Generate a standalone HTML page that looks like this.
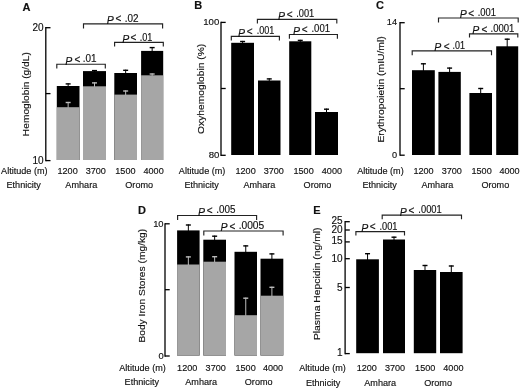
<!DOCTYPE html>
<html><head><meta charset="utf-8"><style>
html,body{margin:0;padding:0;background:#fff;}
body{width:520px;height:388px;overflow:hidden;}
svg{display:block;filter:grayscale(1);}
text{font-family:"Liberation Sans", sans-serif;fill:#111;stroke:#111;stroke-width:0.15px;}
</style></head><body>
<svg width="520" height="388" viewBox="0 0 520 388">
<rect width="520" height="388" fill="#fff"/>
<text x="22.60" y="11.30" font-size="11.0" text-anchor="start" font-weight="bold"  stroke="#000" stroke-width="0.55">A</text>
<line x1="68.15" y1="83.30" x2="68.15" y2="88.00" stroke="#000" stroke-width="1.0"/>
<line x1="65.65" y1="83.90" x2="70.65" y2="83.90" stroke="#000" stroke-width="1.4"/>
<rect x="56.80" y="86.00" width="22.70" height="74.00" fill="#000"/>
<rect x="56.80" y="107.20" width="22.70" height="52.80" fill="#a6a6a6"/>
<line x1="68.15" y1="101.90" x2="68.15" y2="107.70" stroke="#bbbbbb" stroke-width="1.0"/>
<line x1="65.65" y1="102.50" x2="70.65" y2="102.50" stroke="#bbbbbb" stroke-width="1.4"/>
<line x1="94.50" y1="70.00" x2="94.50" y2="73.10" stroke="#000" stroke-width="1.0"/>
<line x1="92.00" y1="70.60" x2="97.00" y2="70.60" stroke="#000" stroke-width="1.4"/>
<rect x="83.00" y="71.10" width="23.00" height="88.90" fill="#000"/>
<rect x="83.00" y="86.30" width="23.00" height="73.70" fill="#a6a6a6"/>
<line x1="94.50" y1="82.30" x2="94.50" y2="86.80" stroke="#bbbbbb" stroke-width="1.0"/>
<line x1="92.00" y1="82.90" x2="97.00" y2="82.90" stroke="#bbbbbb" stroke-width="1.4"/>
<line x1="125.65" y1="69.70" x2="125.65" y2="75.00" stroke="#000" stroke-width="1.0"/>
<line x1="123.15" y1="70.30" x2="128.15" y2="70.30" stroke="#000" stroke-width="1.4"/>
<rect x="114.30" y="73.00" width="22.70" height="87.00" fill="#000"/>
<rect x="114.30" y="94.60" width="22.70" height="65.40" fill="#a6a6a6"/>
<line x1="125.65" y1="90.40" x2="125.65" y2="95.10" stroke="#bbbbbb" stroke-width="1.0"/>
<line x1="123.15" y1="91.00" x2="128.15" y2="91.00" stroke="#bbbbbb" stroke-width="1.4"/>
<line x1="152.15" y1="47.00" x2="152.15" y2="52.90" stroke="#000" stroke-width="1.0"/>
<line x1="149.65" y1="47.60" x2="154.65" y2="47.60" stroke="#000" stroke-width="1.4"/>
<rect x="141.10" y="50.90" width="22.10" height="109.10" fill="#000"/>
<rect x="141.10" y="75.30" width="22.10" height="84.70" fill="#a6a6a6"/>
<line x1="152.15" y1="73.40" x2="152.15" y2="75.80" stroke="#bbbbbb" stroke-width="1.0"/>
<line x1="149.65" y1="74.00" x2="154.65" y2="74.00" stroke="#bbbbbb" stroke-width="1.4"/>
<line x1="45.80" y1="27.05" x2="45.80" y2="161.25" stroke="#000" stroke-width="1.3"/>
<line x1="45.80" y1="27.70" x2="50.50" y2="27.70" stroke="#000" stroke-width="1.3"/>
<line x1="45.80" y1="93.60" x2="50.50" y2="93.60" stroke="#000" stroke-width="1.3"/>
<line x1="45.80" y1="160.60" x2="50.50" y2="160.60" stroke="#000" stroke-width="1.3"/>
<text x="43.60" y="30.78" font-size="10.0" text-anchor="end" font-weight="normal" >20</text>
<text x="43.60" y="163.68" font-size="10.0" text-anchor="end" font-weight="normal" >10</text>
<text transform="translate(29.20,94.15) rotate(-90) scale(1,0.93)" font-size="10.3" text-anchor="middle" textLength="84.10" lengthAdjust="spacingAndGlyphs" stroke-width="0.3">Hemoglobin (g/dL)</text>
<path d="M56.80,68.60 V64.20 H105.30 V68.60" fill="none" stroke="#222" stroke-width="1.15"/>
<text x="65.25" y="64.60" font-size="10.5" font-style="italic" stroke-width="0">P</text>
<text x="74.50" y="62.65" font-size="10">&lt;</text>
<text x="82.65" y="61.95" font-size="10.0" textLength="13.80" lengthAdjust="spacingAndGlyphs">.01</text>
<path d="M114.60,46.60 V42.30 H163.30 V46.60" fill="none" stroke="#222" stroke-width="1.15"/>
<text x="122.25" y="42.70" font-size="10.5" font-style="italic" stroke-width="0">P</text>
<text x="130.40" y="41.25" font-size="10">&lt;</text>
<text x="139.65" y="40.55" font-size="10.0" textLength="12.70" lengthAdjust="spacingAndGlyphs">.01</text>
<path d="M83.50,28.60 V23.80 H162.60 V28.60" fill="none" stroke="#222" stroke-width="1.15"/>
<text x="106.85" y="24.20" font-size="10.5" font-style="italic" stroke-width="0">P</text>
<text x="115.40" y="22.25" font-size="10">&lt;</text>
<text x="124.65" y="21.55" font-size="10.0" textLength="13.80" lengthAdjust="spacingAndGlyphs">.02</text>
<text transform="translate(47.60,173.70) scale(1,1.08)" font-size="9.1" text-anchor="end" font-weight="normal" >Altitude (m)</text>
<text transform="translate(40.90,187.70) scale(1,1.08)" font-size="9.1" text-anchor="end" font-weight="normal" >Ethnicity</text>
<text transform="translate(67.60,173.70) scale(1,1.08)" font-size="9.1" text-anchor="middle" font-weight="normal" >1200</text>
<text transform="translate(95.80,173.70) scale(1,1.08)" font-size="9.1" text-anchor="middle" font-weight="normal" >3700</text>
<text transform="translate(125.40,173.70) scale(1,1.08)" font-size="9.1" text-anchor="middle" font-weight="normal" >1500</text>
<text transform="translate(153.60,173.70) scale(1,1.08)" font-size="9.1" text-anchor="middle" font-weight="normal" >4000</text>
<text transform="translate(81.30,187.70) scale(1,1.08)" font-size="9.1" text-anchor="middle" font-weight="normal" >Amhara</text>
<text transform="translate(139.20,187.70) scale(1,1.08)" font-size="9.1" text-anchor="middle" font-weight="normal" >Oromo</text>
<text x="194.30" y="9.20" font-size="11.0" text-anchor="start" font-weight="bold"  stroke="#000" stroke-width="0.55">B</text>
<line x1="242.60" y1="40.90" x2="242.60" y2="44.80" stroke="#000" stroke-width="1.0"/>
<line x1="240.10" y1="41.50" x2="245.10" y2="41.50" stroke="#000" stroke-width="1.4"/>
<rect x="231.20" y="42.80" width="22.80" height="112.20" fill="#000"/>
<line x1="269.25" y1="78.30" x2="269.25" y2="82.50" stroke="#000" stroke-width="1.0"/>
<line x1="266.75" y1="78.90" x2="271.75" y2="78.90" stroke="#000" stroke-width="1.4"/>
<rect x="258.00" y="80.50" width="22.50" height="74.50" fill="#000"/>
<line x1="300.25" y1="39.80" x2="300.25" y2="43.30" stroke="#000" stroke-width="1.0"/>
<line x1="297.75" y1="40.40" x2="302.75" y2="40.40" stroke="#000" stroke-width="1.4"/>
<rect x="289.20" y="41.30" width="22.10" height="113.70" fill="#000"/>
<line x1="326.50" y1="108.60" x2="326.50" y2="114.00" stroke="#000" stroke-width="1.0"/>
<line x1="324.00" y1="109.20" x2="329.00" y2="109.20" stroke="#000" stroke-width="1.4"/>
<rect x="315.00" y="112.00" width="23.00" height="43.00" fill="#000"/>
<line x1="221.00" y1="21.75" x2="221.00" y2="155.95" stroke="#000" stroke-width="1.3"/>
<line x1="221.00" y1="22.40" x2="225.70" y2="22.40" stroke="#000" stroke-width="1.3"/>
<line x1="221.00" y1="88.50" x2="225.70" y2="88.50" stroke="#000" stroke-width="1.3"/>
<line x1="221.00" y1="155.30" x2="225.70" y2="155.30" stroke="#000" stroke-width="1.3"/>
<text x="219.30" y="25.34" font-size="9.6" text-anchor="end" font-weight="normal" >100</text>
<text x="219.30" y="158.24" font-size="9.6" text-anchor="end" font-weight="normal" >80</text>
<text transform="translate(204.40,88.90) rotate(-90) scale(1,0.93)" font-size="10.3" text-anchor="middle" textLength="90.20" lengthAdjust="spacingAndGlyphs" stroke-width="0.3">Oxyhemoglobin (%)</text>
<path d="M231.30,40.40 V36.30 H279.40 V40.40" fill="none" stroke="#222" stroke-width="1.15"/>
<text x="238.05" y="36.70" font-size="10.5" font-style="italic" stroke-width="0">P</text>
<text x="246.80" y="35.15" font-size="10">&lt;</text>
<text x="256.65" y="34.45" font-size="10.0" textLength="17.60" lengthAdjust="spacingAndGlyphs">.001</text>
<path d="M289.40,38.70 V34.50 H337.40 V38.70" fill="none" stroke="#222" stroke-width="1.15"/>
<text x="293.05" y="34.90" font-size="10.5" font-style="italic" stroke-width="0">P</text>
<text x="301.70" y="33.15" font-size="10">&lt;</text>
<text x="311.45" y="32.45" font-size="10.0" textLength="18.60" lengthAdjust="spacingAndGlyphs">.001</text>
<path d="M257.40,23.60 V19.40 H336.80 V23.60" fill="none" stroke="#222" stroke-width="1.15"/>
<text x="278.05" y="19.80" font-size="10.5" font-style="italic" stroke-width="0">P</text>
<text x="286.70" y="17.95" font-size="10">&lt;</text>
<text x="296.25" y="17.25" font-size="10.0" textLength="18.00" lengthAdjust="spacingAndGlyphs">.001</text>
<text transform="translate(225.40,174.00) scale(1,1.08)" font-size="9.1" text-anchor="end" font-weight="normal" >Altitude (m)</text>
<text transform="translate(218.80,188.00) scale(1,1.08)" font-size="9.1" text-anchor="end" font-weight="normal" >Ethnicity</text>
<text transform="translate(245.60,174.00) scale(1,1.08)" font-size="9.1" text-anchor="middle" font-weight="normal" >1200</text>
<text transform="translate(273.80,174.00) scale(1,1.08)" font-size="9.1" text-anchor="middle" font-weight="normal" >3700</text>
<text transform="translate(303.60,174.00) scale(1,1.08)" font-size="9.1" text-anchor="middle" font-weight="normal" >1500</text>
<text transform="translate(331.90,174.00) scale(1,1.08)" font-size="9.1" text-anchor="middle" font-weight="normal" >4000</text>
<text transform="translate(259.40,188.00) scale(1,1.08)" font-size="9.1" text-anchor="middle" font-weight="normal" >Amhara</text>
<text transform="translate(317.50,188.00) scale(1,1.08)" font-size="9.1" text-anchor="middle" font-weight="normal" >Oromo</text>
<text x="376.10" y="9.00" font-size="11.0" text-anchor="start" font-weight="bold"  stroke="#000" stroke-width="0.55">C</text>
<line x1="423.40" y1="63.20" x2="423.40" y2="72.20" stroke="#000" stroke-width="1.0"/>
<line x1="420.90" y1="63.80" x2="425.90" y2="63.80" stroke="#000" stroke-width="1.4"/>
<rect x="412.00" y="70.20" width="22.80" height="84.80" fill="#000"/>
<line x1="449.60" y1="67.50" x2="449.60" y2="73.90" stroke="#000" stroke-width="1.0"/>
<line x1="447.10" y1="68.10" x2="452.10" y2="68.10" stroke="#000" stroke-width="1.4"/>
<rect x="438.40" y="71.90" width="22.40" height="83.10" fill="#000"/>
<line x1="480.70" y1="87.90" x2="480.70" y2="95.00" stroke="#000" stroke-width="1.0"/>
<line x1="478.20" y1="88.50" x2="483.20" y2="88.50" stroke="#000" stroke-width="1.4"/>
<rect x="469.40" y="93.00" width="22.60" height="62.00" fill="#000"/>
<line x1="507.20" y1="38.60" x2="507.20" y2="48.30" stroke="#000" stroke-width="1.0"/>
<line x1="504.70" y1="39.20" x2="509.70" y2="39.20" stroke="#000" stroke-width="1.4"/>
<rect x="496.20" y="46.30" width="22.00" height="108.70" fill="#000"/>
<line x1="400.00" y1="22.05" x2="400.00" y2="155.85" stroke="#000" stroke-width="1.3"/>
<line x1="400.00" y1="22.70" x2="404.70" y2="22.70" stroke="#000" stroke-width="1.3"/>
<line x1="400.00" y1="88.70" x2="404.70" y2="88.70" stroke="#000" stroke-width="1.3"/>
<line x1="400.00" y1="155.20" x2="404.70" y2="155.20" stroke="#000" stroke-width="1.3"/>
<text x="397.00" y="25.49" font-size="9.2" text-anchor="end" font-weight="normal" >14</text>
<text x="397.00" y="157.99" font-size="9.2" text-anchor="end" font-weight="normal" >0</text>
<text transform="translate(384.20,89.45) rotate(-90) scale(1,0.93)" font-size="10.3" text-anchor="middle" textLength="106.30" lengthAdjust="spacingAndGlyphs" stroke-width="0.3">Erythropoietin (mIU/ml)</text>
<path d="M412.20,55.20 V50.80 H491.50 V55.20" fill="none" stroke="#222" stroke-width="1.15"/>
<text x="434.35" y="51.20" font-size="10.5" font-style="italic" stroke-width="0">P</text>
<text x="443.80" y="49.65" font-size="10">&lt;</text>
<text x="452.55" y="48.95" font-size="10.0" textLength="12.40" lengthAdjust="spacingAndGlyphs">.01</text>
<path d="M469.50,37.60 V33.80 H517.80 V37.60" fill="none" stroke="#222" stroke-width="1.15"/>
<text x="472.25" y="34.20" font-size="10.5" font-style="italic" stroke-width="0">P</text>
<text x="481.50" y="32.85" font-size="10">&lt;</text>
<text x="490.55" y="32.15" font-size="10.0" textLength="23.80" lengthAdjust="spacingAndGlyphs">.0001</text>
<path d="M438.50,22.60 V18.00 H518.20 V22.60" fill="none" stroke="#222" stroke-width="1.15"/>
<text x="459.75" y="18.40" font-size="10.5" font-style="italic" stroke-width="0">P</text>
<text x="468.20" y="16.95" font-size="10">&lt;</text>
<text x="477.65" y="16.25" font-size="10.0" textLength="18.20" lengthAdjust="spacingAndGlyphs">.001</text>
<text transform="translate(403.70,174.00) scale(1,1.08)" font-size="9.1" text-anchor="end" font-weight="normal" >Altitude (m)</text>
<text transform="translate(396.80,188.10) scale(1,1.08)" font-size="9.1" text-anchor="end" font-weight="normal" >Ethnicity</text>
<text transform="translate(423.50,174.00) scale(1,1.08)" font-size="9.1" text-anchor="middle" font-weight="normal" >1200</text>
<text transform="translate(451.80,174.00) scale(1,1.08)" font-size="9.1" text-anchor="middle" font-weight="normal" >3700</text>
<text transform="translate(481.60,174.00) scale(1,1.08)" font-size="9.1" text-anchor="middle" font-weight="normal" >1500</text>
<text transform="translate(509.50,174.00) scale(1,1.08)" font-size="9.1" text-anchor="middle" font-weight="normal" >4000</text>
<text transform="translate(437.40,188.10) scale(1,1.08)" font-size="9.1" text-anchor="middle" font-weight="normal" >Amhara</text>
<text transform="translate(495.30,188.10) scale(1,1.08)" font-size="9.1" text-anchor="middle" font-weight="normal" >Oromo</text>
<text x="137.90" y="213.80" font-size="11.0" text-anchor="start" font-weight="bold"  stroke="#000" stroke-width="0.55">D</text>
<line x1="188.35" y1="224.40" x2="188.35" y2="232.40" stroke="#000" stroke-width="1.0"/>
<line x1="185.85" y1="225.00" x2="190.85" y2="225.00" stroke="#000" stroke-width="1.4"/>
<rect x="177.10" y="230.40" width="22.50" height="125.10" fill="#000"/>
<rect x="177.10" y="264.50" width="22.50" height="91.00" fill="#a6a6a6"/>
<line x1="188.35" y1="256.30" x2="188.35" y2="265.00" stroke="#bbbbbb" stroke-width="1.0"/>
<line x1="185.85" y1="256.90" x2="190.85" y2="256.90" stroke="#bbbbbb" stroke-width="1.4"/>
<line x1="214.65" y1="235.60" x2="214.65" y2="241.70" stroke="#000" stroke-width="1.0"/>
<line x1="212.15" y1="236.20" x2="217.15" y2="236.20" stroke="#000" stroke-width="1.4"/>
<rect x="203.30" y="239.70" width="22.70" height="115.80" fill="#000"/>
<rect x="203.30" y="261.70" width="22.70" height="93.80" fill="#a6a6a6"/>
<line x1="214.65" y1="256.10" x2="214.65" y2="262.20" stroke="#bbbbbb" stroke-width="1.0"/>
<line x1="212.15" y1="256.70" x2="217.15" y2="256.70" stroke="#bbbbbb" stroke-width="1.4"/>
<line x1="245.75" y1="245.30" x2="245.75" y2="253.80" stroke="#000" stroke-width="1.0"/>
<line x1="243.25" y1="245.90" x2="248.25" y2="245.90" stroke="#000" stroke-width="1.4"/>
<rect x="234.50" y="251.80" width="22.50" height="103.70" fill="#000"/>
<rect x="234.50" y="315.20" width="22.50" height="40.30" fill="#a6a6a6"/>
<line x1="245.75" y1="297.60" x2="245.75" y2="315.70" stroke="#bbbbbb" stroke-width="1.0"/>
<line x1="243.25" y1="298.20" x2="248.25" y2="298.20" stroke="#bbbbbb" stroke-width="1.4"/>
<line x1="271.90" y1="253.30" x2="271.90" y2="260.70" stroke="#000" stroke-width="1.0"/>
<line x1="269.40" y1="253.90" x2="274.40" y2="253.90" stroke="#000" stroke-width="1.4"/>
<rect x="260.50" y="258.70" width="22.80" height="96.80" fill="#000"/>
<rect x="260.50" y="295.70" width="22.80" height="59.80" fill="#a6a6a6"/>
<line x1="271.90" y1="286.70" x2="271.90" y2="296.20" stroke="#bbbbbb" stroke-width="1.0"/>
<line x1="269.40" y1="287.30" x2="274.40" y2="287.30" stroke="#bbbbbb" stroke-width="1.4"/>
<line x1="165.00" y1="223.15" x2="165.00" y2="356.65" stroke="#000" stroke-width="1.3"/>
<line x1="165.00" y1="223.80" x2="169.70" y2="223.80" stroke="#000" stroke-width="1.3"/>
<line x1="165.00" y1="289.70" x2="169.70" y2="289.70" stroke="#000" stroke-width="1.3"/>
<line x1="165.00" y1="356.00" x2="169.70" y2="356.00" stroke="#000" stroke-width="1.3"/>
<text x="163.60" y="226.67" font-size="9.4" text-anchor="end" font-weight="normal" >10</text>
<text x="163.60" y="358.87" font-size="9.4" text-anchor="end" font-weight="normal" >0</text>
<text transform="translate(144.80,285.70) rotate(-90) scale(1,0.93)" font-size="10.3" text-anchor="middle" textLength="113.80" lengthAdjust="spacingAndGlyphs" stroke-width="0.3">Body Iron Stores (mg/kg)</text>
<path d="M177.60,220.00 V215.50 H256.60 V220.00" fill="none" stroke="#222" stroke-width="1.15"/>
<text x="198.05" y="215.90" font-size="10.5" font-style="italic" stroke-width="0">P</text>
<text x="206.70" y="213.95" font-size="10">&lt;</text>
<text x="216.25" y="213.25" font-size="10.0" textLength="19.20" lengthAdjust="spacingAndGlyphs">.005</text>
<path d="M203.80,235.40 V231.00 H283.10 V235.40" fill="none" stroke="#222" stroke-width="1.15"/>
<text x="220.55" y="231.40" font-size="10.5" font-style="italic" stroke-width="0">P</text>
<text x="229.50" y="229.65" font-size="10">&lt;</text>
<text x="238.65" y="228.95" font-size="10.0" textLength="25.60" lengthAdjust="spacingAndGlyphs">.0005</text>
<text transform="translate(165.80,371.20) scale(1,1.08)" font-size="9.1" text-anchor="end" font-weight="normal" >Altitude (m)</text>
<text transform="translate(159.00,385.20) scale(1,1.08)" font-size="9.1" text-anchor="end" font-weight="normal" >Ethnicity</text>
<text transform="translate(187.20,371.20) scale(1,1.08)" font-size="9.1" text-anchor="middle" font-weight="normal" >1200</text>
<text transform="translate(215.70,371.20) scale(1,1.08)" font-size="9.1" text-anchor="middle" font-weight="normal" >3700</text>
<text transform="translate(245.60,371.20) scale(1,1.08)" font-size="9.1" text-anchor="middle" font-weight="normal" >1500</text>
<text transform="translate(273.00,371.20) scale(1,1.08)" font-size="9.1" text-anchor="middle" font-weight="normal" >4000</text>
<text transform="translate(201.20,385.20) scale(1,1.08)" font-size="9.1" text-anchor="middle" font-weight="normal" >Amhara</text>
<text transform="translate(258.70,385.20) scale(1,1.08)" font-size="9.1" text-anchor="middle" font-weight="normal" >Oromo</text>
<text x="313.20" y="213.80" font-size="11.0" text-anchor="start" font-weight="bold"  stroke="#000" stroke-width="0.55">E</text>
<line x1="367.55" y1="253.10" x2="367.55" y2="261.30" stroke="#000" stroke-width="1.0"/>
<line x1="365.05" y1="253.70" x2="370.05" y2="253.70" stroke="#000" stroke-width="1.4"/>
<rect x="356.20" y="259.30" width="22.70" height="93.90" fill="#000"/>
<line x1="394.00" y1="236.60" x2="394.00" y2="241.50" stroke="#000" stroke-width="1.0"/>
<line x1="391.50" y1="237.20" x2="396.50" y2="237.20" stroke="#000" stroke-width="1.4"/>
<rect x="383.00" y="239.50" width="22.00" height="113.70" fill="#000"/>
<line x1="425.00" y1="264.90" x2="425.00" y2="272.00" stroke="#000" stroke-width="1.0"/>
<line x1="422.50" y1="265.50" x2="427.50" y2="265.50" stroke="#000" stroke-width="1.4"/>
<rect x="413.80" y="270.00" width="22.40" height="83.20" fill="#000"/>
<line x1="451.30" y1="265.40" x2="451.30" y2="274.00" stroke="#000" stroke-width="1.0"/>
<line x1="448.80" y1="266.00" x2="453.80" y2="266.00" stroke="#000" stroke-width="1.4"/>
<rect x="440.00" y="272.00" width="22.60" height="81.20" fill="#000"/>
<line x1="345.10" y1="221.05" x2="345.10" y2="354.25" stroke="#000" stroke-width="1.3"/>
<line x1="345.10" y1="221.70" x2="349.80" y2="221.70" stroke="#000" stroke-width="1.3"/>
<line x1="345.10" y1="230.00" x2="349.80" y2="230.00" stroke="#000" stroke-width="1.3"/>
<line x1="345.10" y1="241.90" x2="349.80" y2="241.90" stroke="#000" stroke-width="1.3"/>
<line x1="345.10" y1="258.70" x2="349.80" y2="258.70" stroke="#000" stroke-width="1.3"/>
<line x1="345.10" y1="287.50" x2="349.80" y2="287.50" stroke="#000" stroke-width="1.3"/>
<line x1="345.10" y1="353.60" x2="349.80" y2="353.60" stroke="#000" stroke-width="1.3"/>
<text x="342.60" y="224.08" font-size="10.0" text-anchor="end" font-weight="normal" >25</text>
<text x="342.60" y="233.18" font-size="10.0" text-anchor="end" font-weight="normal" >20</text>
<text x="342.60" y="244.18" font-size="10.0" text-anchor="end" font-weight="normal" >15</text>
<text x="342.60" y="261.98" font-size="10.0" text-anchor="end" font-weight="normal" >10</text>
<text x="342.60" y="290.78" font-size="10.0" text-anchor="end" font-weight="normal" >5</text>
<text x="342.60" y="356.48" font-size="10.0" text-anchor="end" font-weight="normal" >1</text>
<text transform="translate(319.80,283.80) rotate(-90) scale(1,0.93)" font-size="10.3" text-anchor="middle" textLength="112.60" lengthAdjust="spacingAndGlyphs" stroke-width="0.3">Plasma Hepcidin (ng/ml)</text>
<path d="M355.90,235.60 V231.60 H404.50 V235.60" fill="none" stroke="#222" stroke-width="1.15"/>
<text x="361.35" y="232.00" font-size="10.5" font-style="italic" stroke-width="0">P</text>
<text x="369.80" y="230.35" font-size="10">&lt;</text>
<text x="379.45" y="229.65" font-size="10.0" textLength="18.00" lengthAdjust="spacingAndGlyphs">.001</text>
<path d="M382.20,219.30 V215.10 H461.50 V219.30" fill="none" stroke="#222" stroke-width="1.15"/>
<text x="399.65" y="215.50" font-size="10.5" font-style="italic" stroke-width="0">P</text>
<text x="408.60" y="214.05" font-size="10">&lt;</text>
<text x="418.35" y="213.35" font-size="10.0" textLength="23.40" lengthAdjust="spacingAndGlyphs">.0001</text>
<text transform="translate(345.80,371.40) scale(1,1.08)" font-size="9.1" text-anchor="end" font-weight="normal" >Altitude (m)</text>
<text transform="translate(340.30,385.60) scale(1,1.08)" font-size="9.1" text-anchor="end" font-weight="normal" >Ethnicity</text>
<text transform="translate(366.80,371.40) scale(1,1.08)" font-size="9.1" text-anchor="middle" font-weight="normal" >1200</text>
<text transform="translate(395.00,371.40) scale(1,1.08)" font-size="9.1" text-anchor="middle" font-weight="normal" >3700</text>
<text transform="translate(425.20,371.40) scale(1,1.08)" font-size="9.1" text-anchor="middle" font-weight="normal" >1500</text>
<text transform="translate(453.40,371.40) scale(1,1.08)" font-size="9.1" text-anchor="middle" font-weight="normal" >4000</text>
<text transform="translate(380.20,385.60) scale(1,1.08)" font-size="9.1" text-anchor="middle" font-weight="normal" >Amhara</text>
<text transform="translate(438.10,385.60) scale(1,1.08)" font-size="9.1" text-anchor="middle" font-weight="normal" >Oromo</text>
</svg>
</body></html>
